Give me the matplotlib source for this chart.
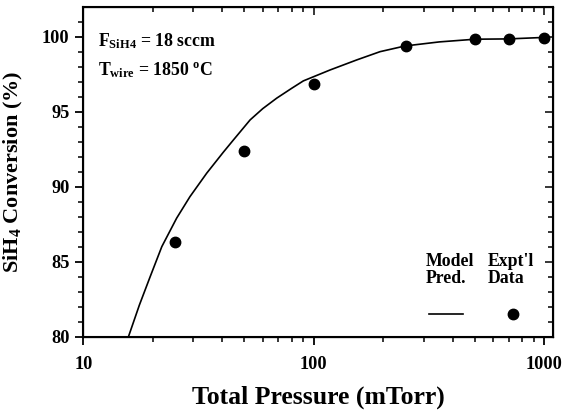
import matplotlib
matplotlib.use("Agg")
import matplotlib.pyplot as plt
from matplotlib.lines import Line2D

plt.rcParams["font.family"] = "Liberation Serif"
plt.rcParams["font.weight"] = "bold"
plt.rcParams["mathtext.fontset"] = "custom"
plt.rcParams["mathtext.rm"] = "Liberation Serif:bold"
plt.rcParams["mathtext.bf"] = "Liberation Serif:bold"
plt.rcParams["mathtext.it"] = "Liberation Serif:bold"

# Model prediction
model_p = [15.7, 17.5, 19.5, 21.9, 25.4, 29.0, 34.3, 40.5, 44.7, 52.9, 60.0, 69.0, 80.0, 90.0,
           117.6, 153.5, 193.7, 248.7, 350, 500, 698, 1000]
model_conv = [80.0, 82.1, 84.0, 86.0, 87.9, 89.33, 90.9, 92.3, 93.1, 94.45, 95.2, 95.9, 96.55, 97.05,
              97.78, 98.45, 99.0, 99.38, 99.65, 99.83, 99.85, 99.95]

# Experimental data
expt_p = [25, 50, 100, 250, 500, 700, 1000]
expt_conv = [86.33, 92.38, 96.83, 99.38, 99.83, 99.85, 99.92]

xticks = [10, 100, 1000]
yticks = [80, 85, 90, 95, 100]

fig = plt.figure(figsize=(5.63, 4.12), dpi=100)
ax = fig.add_axes([0.148, 0.183, 0.835, 0.799])

ax.plot(model_p, model_conv, color="black", lw=1.2)
ax.plot(expt_p, expt_conv, "o", color="black", ms=7.5, ls="none")

ax.set_xscale("log")
ax.set_xlim(10, 1094)
ax.set_ylim(80, 101.95)
ax.set_xticks(xticks)
ax.set_xticklabels([str(t) for t in xticks])
ax.set_yticks(yticks)
ax.set_yticks(range(80, 102), minor=True)
ax.tick_params(which="major", direction="out", length=6, width=1.3, labelsize=13.2, pad=4)
ax.tick_params(which="minor", direction="out", length=3.5, width=1.1)
ax.tick_params(axis="x", which="major", pad=8)
ax.xaxis.set_minor_formatter(plt.NullFormatter())
for s in ax.spines.values():
    s.set_linewidth(1.5)

# mirrored ticks on top and right, pointing in
axt = ax.twiny()
axt.set_xscale("log")
axt.set_xlim(ax.get_xlim())
axt.set_xticks(xticks)
axt.tick_params(which="both", direction="in", labeltop=False, width=1.1)
axt.tick_params(which="major", length=6)
axt.tick_params(which="minor", length=3.5)
axr = ax.twinx()
axr.set_ylim(ax.get_ylim())
axr.set_yticks(yticks)
axr.set_yticks(range(80, 102), minor=True)
axr.tick_params(which="both", direction="in", labelright=False, width=1.1)
axr.tick_params(which="major", length=6)
axr.tick_params(which="minor", length=3.5)

ax.set_xlabel("Total Pressure (mTorr)", fontsize=18.5, fontweight="bold", labelpad=9)
ax.set_ylabel(r"SiH$_4$ Conversion (%)", fontsize=16, fontweight="bold", labelpad=12)

ax.text(0.031, 0.881, r"F$_{\mathrm{SiH4}}$ = 18 sccm", transform=ax.transAxes,
        fontsize=12.8, va="baseline", ha="left")
ax.text(0.031, 0.795, r"T$_{\mathrm{wire}}$ = 1850 $^{\mathrm{o}}$C", transform=ax.transAxes,
        fontsize=12.8, va="baseline", ha="left")

# legend: labels above the keys
ax.text(0.729, 0.254, "Model\nPred.", transform=ax.transAxes, fontsize=12.8,
        ha="left", va="top", linespacing=1.0)
ax.text(0.861, 0.254, "Expt'l\nData", transform=ax.transAxes, fontsize=12.8,
        ha="left", va="top", linespacing=1.0)
leg1 = ax.legend(handles=[Line2D([], [], color="black", lw=1.2)], labels=[""],
                 loc="center", bbox_to_anchor=(0.772, 0.062), frameon=False,
                 handlelength=1.95, handletextpad=0, borderpad=0, fontsize=12.5)
ax.add_artist(leg1)
ax.legend(handles=[Line2D([], [], color="black", marker="o", ms=7.5, ls="none")], labels=[""],
          loc="center", bbox_to_anchor=(0.9136, 0.062), frameon=False,
          handlelength=1.0, handletextpad=0, borderpad=0, fontsize=12.5)

fig.savefig("out.png", dpi=100)
